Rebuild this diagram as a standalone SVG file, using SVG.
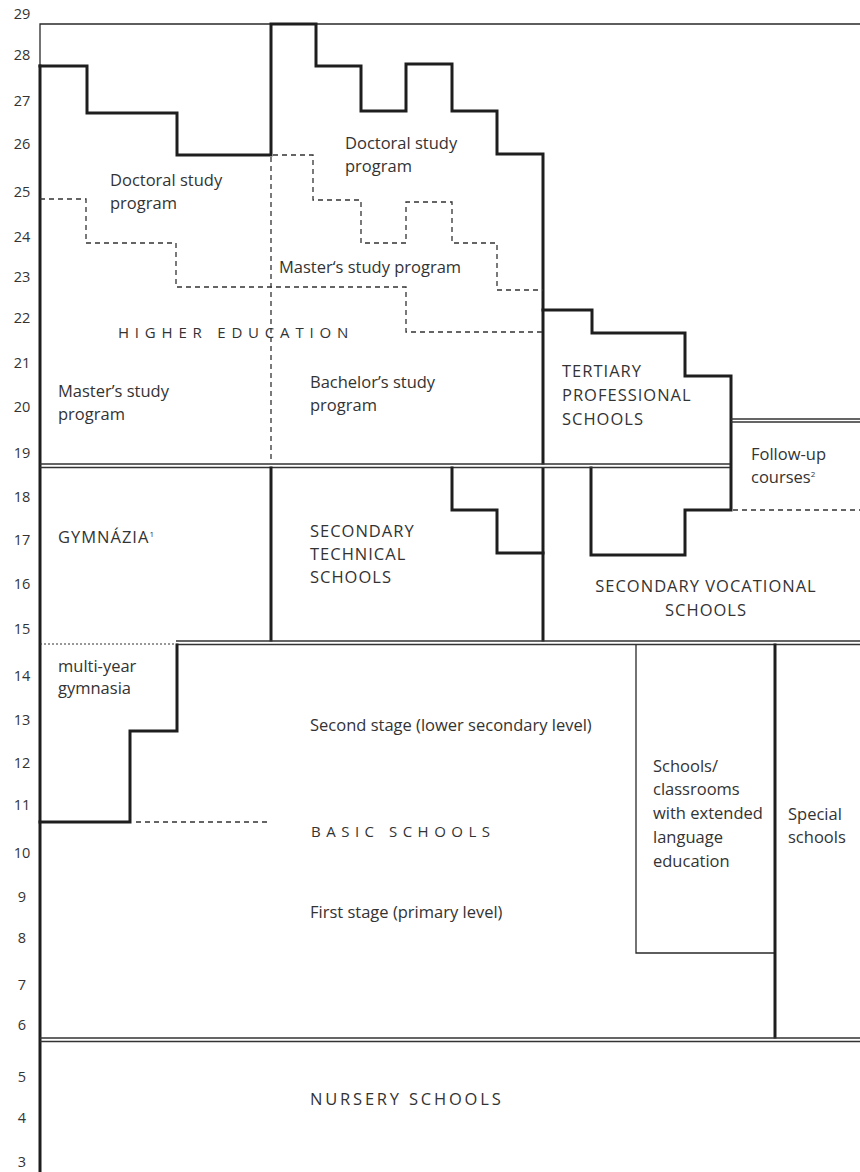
<svg xmlns="http://www.w3.org/2000/svg" width="860" height="1172" viewBox="0 0 860 1172">
<style>
text{font-family:"Open Sans",Lato,"Liberation Sans",sans-serif;font-size:16.5px;fill:#333}
.caps{letter-spacing:1px}
.ax{font-size:14.5px;text-anchor:middle}
.sp{letter-spacing:5.8px;font-size:15px}
.thick{fill:none;stroke:#1e1e1e;stroke-width:3;stroke-linejoin:miter;stroke-linecap:square}
.thin{fill:none;stroke:#2a2a2a;stroke-width:1.3}
.dbl{fill:none;stroke:#333;stroke-width:1.3}
.dash{fill:none;stroke:#333;stroke-width:1.3;stroke-dasharray:5 4}
.dot{fill:none;stroke:#333;stroke-width:1;stroke-dasharray:2 2}
</style>
<rect width="860" height="1172" fill="#fff"/>
<g id="axis">
<text class="ax" x="22" y="19">29</text>
<text class="ax" x="22" y="60">28</text>
<text class="ax" x="22" y="106">27</text>
<text class="ax" x="22" y="149">26</text>
<text class="ax" x="22" y="197">25</text>
<text class="ax" x="22" y="242">24</text>
<text class="ax" x="22" y="282">23</text>
<text class="ax" x="22" y="323">22</text>
<text class="ax" x="22" y="368">21</text>
<text class="ax" x="22" y="412">20</text>
<text class="ax" x="22" y="458">19</text>
<text class="ax" x="22" y="502">18</text>
<text class="ax" x="22" y="545">17</text>
<text class="ax" x="22" y="589">16</text>
<text class="ax" x="22" y="634">15</text>
<text class="ax" x="22" y="681">14</text>
<text class="ax" x="22" y="725">13</text>
<text class="ax" x="22" y="768">12</text>
<text class="ax" x="22" y="810">11</text>
<text class="ax" x="22" y="858">10</text>
<text class="ax" x="22" y="902">9</text>
<text class="ax" x="22" y="943">8</text>
<text class="ax" x="22" y="990">7</text>
<text class="ax" x="22" y="1030">6</text>
<text class="ax" x="22" y="1082">5</text>
<text class="ax" x="22" y="1123">4</text>
<text class="ax" x="22" y="1167">3</text>
</g>
<g id="connectors">
<path class="thin" d="M40,66 V24 H860"/>
<path class="thick" d="M40,66 V1172"/>
<path class="thick" d="M40,66 H87 V113 H177 V155 H271 V24 H316 V66 H361 V111 H406 V64 H452 V111 H497 V154 H543 V463"/>
<path class="thick" d="M543,469 V640"/>
<path class="dash" d="M40,199 H86 V243 H176 V287 H406 V332 H543"/>
<path class="dash" d="M271,157 V463"/>
<path class="dash" d="M273,155 H313 V200 H361 V243 H406 V202 H452 V243 H497 V290 H543"/>
<path class="thick" d="M543,310 H592 V333 H685 V376 H731 V510 H685 V555 H591 V468"/>
<path class="dbl" d="M731,419 H860 M731,422 H860"/>
<path class="dash" d="M733,510 H860"/>
<path class="dbl" d="M40,464 H730 M40,467.5 H730"/>
<path class="thick" d="M271,468 V640"/>
<path class="thick" d="M452,468 V510 H497 V553 H543"/>
<path class="dbl" d="M176,641 H860 M176,644.5 H860"/>
<path class="dot" d="M40,644 H176"/>
<path class="thick" d="M177,645 V731 H130 V822 H40"/>
<path class="dash" d="M136,822 H268"/>
<path class="thin" d="M636,645 V953 H775"/>
<path class="thick" d="M775,645 V1037"/>
<path class="dbl" d="M40,1038 H860 M40,1041.5 H860"/>
</g>
<g id="doctoral-left"><text x="110" y="186">Doctoral study</text><text x="110" y="209">program</text></g>
<g id="doctoral-mid"><text x="345" y="149">Doctoral study</text><text x="345" y="172">program</text></g>
<g id="master-mid"><text x="279" y="273">Master‘s study program</text></g>
<g id="higher-education"><text class="sp" x="118" y="338">HIGHER EDUCATION</text></g>
<g id="master-left"><text x="58" y="397">Master’s study</text><text x="58" y="420">program</text></g>
<g id="bachelor"><text x="310" y="388">Bachelor’s study</text><text x="310" y="411">program</text></g>
<g id="tertiary"><text class="caps" x="562" y="377">TERTIARY</text><text class="caps" x="562" y="401">PROFESSIONAL</text><text class="caps" x="562" y="425">SCHOOLS</text></g>
<g id="follow-up"><text x="751" y="460">Follow-up</text><text x="751" y="483">courses<tspan font-size="8" dy="-6">2</tspan></text></g>
<g id="gymnazia"><text class="caps" x="58" y="543">GYMNÁZIA<tspan font-size="8" dy="-6">1</tspan></text></g>
<g id="secondary-technical"><text class="caps" x="310" y="537">SECONDARY</text><text class="caps" x="310" y="560">TECHNICAL</text><text class="caps" x="310" y="583">SCHOOLS</text></g>
<g id="secondary-vocational"><text class="caps" x="706" y="592" text-anchor="middle">SECONDARY VOCATIONAL</text><text class="caps" x="706" y="616" text-anchor="middle">SCHOOLS</text></g>
<g id="multi-year"><text x="58" y="672">multi-year</text><text x="58" y="694">gymnasia</text></g>
<g id="basic-schools">
<text x="310" y="731">Second stage (lower secondary level)</text>
<text class="sp" x="311" y="837" style="letter-spacing:5.5px">BASIC SCHOOLS</text>
<text x="310" y="918">First stage (primary level)</text>
</g>
<g id="extended-language"><text x="653" y="772">Schools/</text><text x="653" y="795">classrooms</text><text x="653" y="819">with extended</text><text x="653" y="843">language</text><text x="653" y="867">education</text></g>
<g id="special"><text x="788" y="820">Special</text><text x="788" y="843">schools</text></g>
<g id="nursery"><text class="caps" x="310" y="1105" style="letter-spacing:2.8px">NURSERY SCHOOLS</text></g>
</svg>
